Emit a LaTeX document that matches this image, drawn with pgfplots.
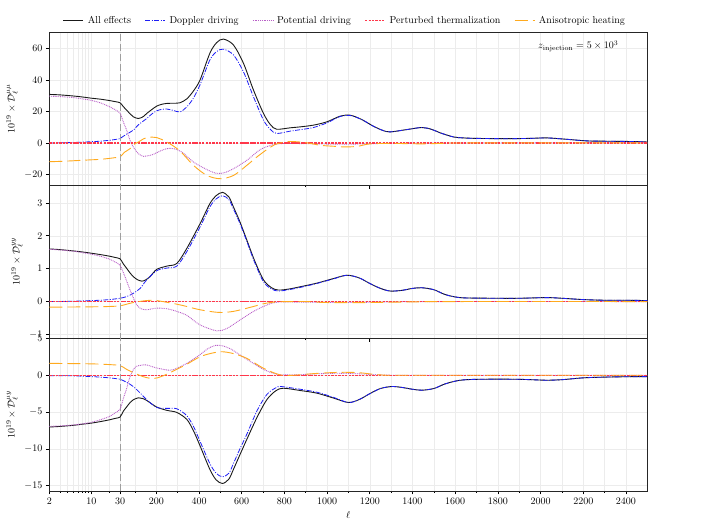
\documentclass[border=0pt]{standalone}
\usepackage{pgfplots}
\pgfplotsset{compat=1.18}
\definecolor{cblue}{RGB}{30,30,245}
\definecolor{cpurple}{RGB}{185,95,200}
\definecolor{cred}{RGB}{255,55,75}
\definecolor{corange}{RGB}{255,170,30}
\definecolor{cgrid}{RGB}{236,236,236}
\pgfplotsset{
  x coord trafo/.code={\pgfmathparse{max(#1,30)-122.377*ln(30/min(#1,30))}},
  panel/.style={
    scale only axis, width=598pt, height=152.9pt,
    xmin=2, xmax=2500, enlargelimits=false,
    xtick={2,10,30,200,400,600,800,1000,1200,1400,1600,1800,2000,2200,2400},
    minor xtick={3,4,5,6,7,8,9,20,100,300,500,700,900,1100,1300,1500,1700,1900,2100,2300},
    xtick pos=bottom, ytick pos=left, tick align=outside,
    major tick length=3.5pt, minor tick length=2pt,
    tick style={black, line width=0.6pt},
    xmajorgrids, xminorgrids, ymajorgrids,
    major grid style={cgrid, line width=0.5pt},
    minor grid style={cgrid, line width=0.5pt},
    axis line style={black!85, line width=0.8pt},
    every axis plot/.append style={smooth, tension=0.5},
  },
  lall/.style={black!90, line width=0.9pt},
  ldop/.style={cblue, line width=0.8pt, dash pattern=on 5pt off 1.5pt on 1pt off 1.5pt},
  lpot/.style={cpurple, line width=0.9pt, dash pattern=on 0.9pt off 0.9pt},
  lpt/.style={cred, line width=1.1pt, dash pattern=on 2.2pt off 1.2pt},
  lah/.style={corange, line width=0.9pt, dash pattern=on 13pt off 5pt},
  lvert/.style={gray!75, line width=1pt, dash pattern=on 7pt off 3pt},
}
\begin{document}
\begin{tikzpicture}
\path[use as bounding box] (0,0) rectangle (706pt,530pt);

% ---------------- top panel
\begin{axis}[panel, at={(49.3pt,344.8pt)}, anchor=south west,
  ymin=-26.8, ymax=70.2, ytick={-20,0,20,40,60}, xticklabels={},
  ylabel={$10^{19}\times\mathcal{D}_\ell^{\mu\mu}$},
  legend columns=5,
  legend style={at={(0.496,1)}, anchor=south, yshift=3pt, draw=none, fill=none,
    /tikz/every even column/.append style={column sep=9.6pt},
    nodes={inner xsep=4pt}},
  legend image code/.code={\draw[#1] (0pt,0pt) -- (20pt,0pt);},
]
\addplot[lvert, forget plot, sharp plot] coordinates {(30,-100) (30,100)};
\addplot[lall] coordinates {(2,30.8)(3,30.5)(5,29.8)(7,29.2)(10,28.4)(14,27.8)(20,26.9)(25,26.2)(30,25.5)(45,23.1)(61,20.8)(77,18.5)(92,16.6)(116,15.5)(140,16.8)(155,18.7)(180,21.3)(202,23.4)(225,24.5)(250,25.1)(281,25.2)(311,25.5)(343,28.0)(374,33.0)(405,40.0)(451,57.0)(483,63.7)(514,65.9)(561,62.2)(608,50.6)(655,33.6)(702,18.7)(735,11.5)(764,8.7)(827,9.6)(874,10.2)(936,11.3)(999,13.4)(1061,17.0)(1108,17.6)(1160,15.0)(1217,10.6)(1260,8.0)(1295,7.0)(1374,8.5)(1444,9.8)(1490,8.6)(1530,6.4)(1592,3.8)(1638,3.2)(1700,2.9)(1842,2.7)(1950,2.9)(2030,3.2)(2124,2.3)(2217,1.3)(2311,1.1)(2436,0.9)(2500,0.6)};
\addlegendentry{All effects}
\addplot[ldop] coordinates {(2,0.0)(3,0.1)(5,0.3)(7,0.5)(10,0.8)(14,1.1)(20,1.7)(25,2.2)(30,2.8)(45,4.2)(61,5.6)(77,6.8)(92,8.1)(116,11.5)(140,14.0)(155,15.5)(180,18.5)(202,20.4)(225,21.3)(250,21.5)(281,20.6)(311,19.7)(343,22.9)(374,28.5)(405,37.0)(451,52.7)(483,58.0)(514,59.5)(561,55.9)(608,45.2)(655,29.3)(702,14.5)(735,8.5)(764,6.0)(827,7.5)(874,8.4)(936,9.8)(999,12.7)(1061,16.8)(1108,17.4)(1160,15.0)(1217,10.6)(1260,8.0)(1295,7.0)(1374,8.5)(1444,9.8)(1490,8.6)(1530,6.4)(1592,3.8)(1638,3.2)(1700,2.9)(1842,2.7)(1950,2.9)(2030,3.2)(2124,2.3)(2217,1.3)(2311,1.1)(2436,0.9)(2500,0.6)};
\addlegendentry{Doppler driving}
\addplot[lpot] coordinates {(2,29.7)(3,29.4)(5,28.8)(7,28.0)(10,27.0)(14,25.5)(20,23.0)(25,21.0)(30,18.9)(45,13.5)(61,8.1)(77,1.7)(92,-2.5)(116,-6.8)(140,-8.5)(160,-8.2)(187,-7.2)(220,-5.0)(250,-3.6)(281,-3.6)(319,-5.7)(374,-12.1)(437,-16.9)(483,-19.3)(520,-18.8)(562,-16.3)(624,-11.0)(687,-4.2)(749,-1.0)(800,-0.3)(874,-0.4)(1000,-0.7)(1100,-0.8)(1200,-0.5)(1300,-0.2)(1500,-0.1)(1700,0)(2500,0)};
\addlegendentry{Potential driving}
\addplot[lpt] coordinates {(2,0)(2500,0)};
\addlegendentry{Perturbed thermalization}
\addplot[lah] coordinates {(2,-11.9)(3,-11.7)(5,-11.3)(7,-11.0)(10,-10.7)(14,-10.4)(20,-9.8)(25,-9.3)(30,-8.9)(50,-6.0)(77,-3.6)(95,-1.0)(116,0.6)(140,2.6)(155,3.4)(180,3.7)(202,3.4)(250,0.6)(311,-5.1)(374,-14.2)(437,-20.6)(499,-22.7)(562,-20.6)(624,-14.2)(671,-8.9)(720,-4.0)(764,-0.6)(827,0.9)(900,0.2)(970,-1.5)(1030,-2.1)(1080,-2.5)(1140,-2.2)(1200,-0.6)(1300,-0.3)(1400,-0.5)(1460,-0.6)(1550,-0.2)(1650,0)(2500,0)};
\addlegendentry{Anisotropic heating}
\node[anchor=east] at (rel axis cs:0.9577,0.91) {$z_{\mathrm{injection}} = 5\times10^{3}$};
\end{axis}

% ---------------- middle panel
\begin{axis}[panel, at={(49.3pt,191.9pt)}, anchor=south west,
  ymin=-1.11, ymax=3.54, ytick={-1,0,1,2,3}, xticklabels={},
  ylabel={$10^{19}\times\mathcal{D}_\ell^{yy}$},
]
\addplot[lvert, forget plot, sharp plot] coordinates {(30,-100) (30,100)};
\addplot[lall] coordinates {(2,1.60)(3,1.58)(5,1.54)(7,1.51)(10,1.47)(14,1.43)(20,1.38)(25,1.34)(30,1.30)(45,1.15)(61,1.01)(77,0.87)(92,0.76)(110,0.67)(132,0.62)(150,0.66)(171,0.76)(202,0.98)(250,1.08)(296,1.16)(343,1.62)(405,2.37)(451,2.98)(480,3.22)(510,3.32)(540,3.18)(561,2.88)(590,2.45)(624,1.87)(660,1.25)(702,0.66)(740,0.42)(772,0.35)(820,0.38)(874,0.45)(952,0.56)(1030,0.70)(1093,0.80)(1150,0.72)(1200,0.55)(1250,0.40)(1295,0.32)(1350,0.34)(1400,0.40)(1444,0.42)(1500,0.36)(1550,0.22)(1600,0.14)(1650,0.11)(1800,0.10)(1900,0.10)(2030,0.12)(2100,0.10)(2200,0.06)(2300,0.04)(2400,0.04)(2500,0.03)};
\addplot[ldop] coordinates {(2,0.0)(5,0.01)(10,0.03)(14,0.04)(20,0.06)(25,0.08)(30,0.10)(61,0.15)(92,0.25)(124,0.40)(155,0.66)(202,0.94)(250,1.02)(296,1.08)(343,1.52)(405,2.27)(451,2.88)(480,3.12)(510,3.22)(540,3.10)(561,2.82)(590,2.40)(624,1.83)(660,1.20)(702,0.60)(740,0.38)(772,0.32)(820,0.36)(874,0.43)(952,0.55)(1030,0.69)(1093,0.80)(1150,0.72)(1200,0.55)(1250,0.40)(1295,0.32)(1350,0.34)(1400,0.40)(1444,0.42)(1500,0.36)(1550,0.22)(1600,0.14)(1650,0.11)(1800,0.10)(1900,0.10)(2030,0.12)(2100,0.10)(2200,0.06)(2300,0.04)(2400,0.04)(2500,0.03)};
\addplot[lpot] coordinates {(2,1.59)(3,1.57)(5,1.53)(7,1.49)(10,1.44)(14,1.38)(20,1.29)(25,1.20)(30,1.10)(53,0.76)(77,0.35)(108,-0.1)(130,-0.22)(155,-0.25)(202,-0.2)(250,-0.22)(296,-0.3)(343,-0.42)(405,-0.71)(483,-0.89)(530,-0.82)(592,-0.56)(650,-0.32)(702,-0.15)(764,-0.02)(900,-0.02)(1100,-0.03)(1300,-0.01)(1500,0)(2500,0)};
\addplot[lpt] coordinates {(2,0)(2500,0)};
\addplot[lah] coordinates {(2,-0.17)(10,-0.16)(20,-0.15)(30,-0.13)(61,-0.08)(92,-0.03)(140,0.02)(186,0.04)(230,0.0)(296,-0.08)(343,-0.15)(405,-0.25)(491,-0.33)(560,-0.30)(655,-0.15)(700,-0.07)(764,-0.01)(900,0)(1000,-0.03)(1200,-0.03)(1400,-0.01)(1600,0)(2500,0)};
\end{axis}

% ---------------- bottom panel
\begin{axis}[panel, at={(49.3pt,39pt)}, anchor=south west,
  ymin=-15.72, ymax=5.05, ytick={-15,-10,-5,0,5},
  xticklabels={2,10,30,200,400,600,800,1000,1200,1400,1600,1800,2000,2200,2400},
  ylabel={$10^{19}\times\mathcal{D}_\ell^{\mu y}$},
  xlabel={$\ell$},
]
\addplot[lvert, forget plot, sharp plot] coordinates {(30,-100) (30,100)};
\addplot[lall] coordinates {(2,-7.03)(3,-6.95)(5,-6.8)(7,-6.65)(10,-6.5)(14,-6.3)(20,-6.05)(25,-5.85)(30,-5.68)(45,-4.9)(61,-4.3)(77,-3.7)(92,-3.33)(116,-3.06)(135,-3.15)(155,-3.42)(202,-4.32)(250,-4.77)(296,-5.05)(343,-6.0)(375,-7.6)(405,-9.6)(451,-12.8)(480,-14.2)(510,-14.7)(540,-14.1)(561,-12.8)(590,-10.9)(624,-8.7)(672,-5.7)(718,-3.3)(760,-2.1)(795,-1.76)(874,-2.07)(952,-2.43)(1030,-3.1)(1100,-3.7)(1150,-3.3)(1200,-2.5)(1250,-1.8)(1303,-1.53)(1350,-1.65)(1400,-1.9)(1444,-2.03)(1500,-1.8)(1550,-1.2)(1600,-0.8)(1638,-0.63)(1700,-0.55)(1800,-0.53)(1900,-0.55)(2000,-0.65)(2030,-0.68)(2100,-0.6)(2200,-0.35)(2300,-0.25)(2400,-0.2)(2500,-0.18)};
\addplot[ldop] coordinates {(2,-0.05)(5,-0.08)(10,-0.18)(14,-0.25)(20,-0.35)(25,-0.44)(30,-0.54)(61,-0.95)(92,-1.53)(124,-2.4)(155,-3.33)(202,-4.37)(250,-4.5)(296,-4.55)(343,-5.5)(375,-7.0)(405,-9.0)(451,-12.0)(480,-13.3)(510,-13.8)(540,-13.3)(561,-12.0)(590,-10.1)(624,-8.0)(672,-4.8)(718,-2.6)(760,-1.7)(784,-1.53)(874,-1.9)(952,-2.3)(1030,-3.0)(1100,-3.7)(1150,-3.3)(1200,-2.5)(1250,-1.8)(1303,-1.53)(1350,-1.65)(1400,-1.9)(1444,-2.03)(1500,-1.8)(1550,-1.2)(1600,-0.8)(1638,-0.63)(1700,-0.55)(1800,-0.53)(1900,-0.55)(2000,-0.65)(2030,-0.68)(2100,-0.6)(2200,-0.35)(2300,-0.25)(2400,-0.2)(2500,-0.18)};
\addplot[lpot] coordinates {(2,-6.94)(3,-6.88)(5,-6.75)(7,-6.6)(10,-6.4)(14,-6.05)(20,-5.6)(25,-5.1)(30,-4.6)(45,-3.2)(61,-1.8)(77,-0.18)(100,1.08)(125,1.35)(155,1.4)(200,1.0)(264,0.68)(300,1.0)(343,1.62)(405,2.8)(440,3.6)(476,4.05)(510,4.0)(550,3.55)(592,2.75)(650,1.7)(702,0.81)(764,0.14)(850,0.05)(950,0.2)(1050,0.27)(1150,0.2)(1250,0.05)(1400,0)(2500,0)};
\addplot[lpt] coordinates {(2,0)(2500,0)};
\addplot[lah] coordinates {(2,1.62)(10,1.55)(20,1.45)(30,1.31)(61,0.8)(92,0.36)(140,-0.2)(186,-0.45)(230,-0.1)(296,0.81)(343,1.5)(405,2.52)(460,3.0)(507,3.2)(560,2.95)(624,2.3)(702,0.95)(780,0.05)(842,0)(950,0.25)(1061,0.4)(1150,0.35)(1250,0.05)(1400,0)(2500,0)};
\end{axis}
\end{tikzpicture}
\end{document}
